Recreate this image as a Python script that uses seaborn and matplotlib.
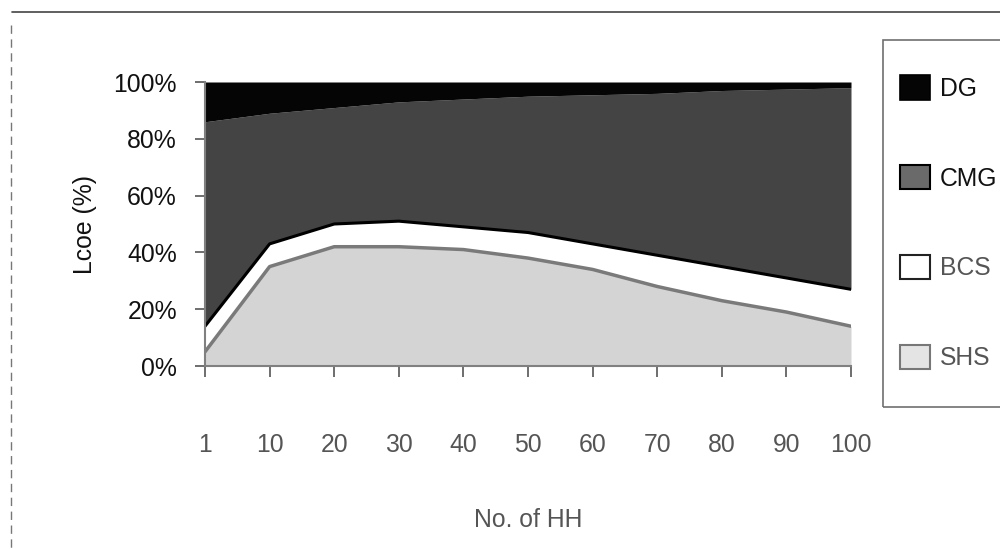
import numpy as np
import pandas as pd
import matplotlib
matplotlib.use("Agg")
import matplotlib.pyplot as plt
import seaborn as sns
from matplotlib.patches import Patch, Rectangle
from matplotlib.lines import Line2D

# ---- data (shares in %) ----
categories = ['1', '10', '20', '30', '40', '50', '60', '70', '80', '90', '100']
shs = [5, 35, 42, 42, 41, 38, 34, 28, 23, 19, 14]
bcs = [9, 8, 8, 9, 8, 9, 9, 11, 12, 12, 13]
cmg = [72, 46, 41, 42, 45, 48, 52.5, 57, 62, 66.5, 71]
dg = [14, 11, 9, 7, 6, 5, 4.5, 4, 3, 2.5, 2]
series_names = ['SHS', 'BCS', 'CMG', 'DG']
y_ticks = [0, 20, 40, 60, 80, 100]
y_tick_labels = ['0%', '20%', '40%', '60%', '80%', '100%']

sns.set_theme(style='white')
plt.rcParams['font.family'] = ['Liberation Sans', 'DejaVu Sans']

W, H = 1000, 549
FS = 17.8
fig = plt.figure(figsize=(W / 100, H / 100), dpi=100)
ax = fig.add_axes([205 / W, 1 - 366 / H, 646 / W, 284 / H])

x = np.arange(len(categories))
colors = ['#d4d4d4', '#ffffff', '#444444', '#050505']
ax.stackplot(x, shs, bcs, cmg, dg, colors=colors, linewidth=0)

df = pd.DataFrame({'x': x,
                   'shs_top': np.array(shs, dtype=float),
                   'bcs_top': np.array(shs, dtype=float) + np.array(bcs, dtype=float)})
sns.lineplot(data=df, x='x', y='shs_top', ax=ax, color='#7a7a7a', lw=2.5)
sns.lineplot(data=df, x='x', y='bcs_top', ax=ax, color='#000000', lw=2.2)

ax.set_xlim(0, len(categories) - 1)
ax.set_ylim(0, 100)
ax.set_xticks(x)
ax.set_xticklabels(categories)
ax.set_yticks(y_ticks)
ax.set_yticklabels(y_tick_labels)

for s in ['top', 'right']:
    ax.spines[s].set_visible(False)
for s in ['left', 'bottom']:
    ax.spines[s].set_color('#808080')
    ax.spines[s].set_linewidth(1.5)

ax.tick_params(axis='y', which='major', direction='out', length=7.2, width=1.2,
               color='#555555', pad=13, labelsize=FS, labelcolor='#111111', left=True)
ax.tick_params(axis='x', which='major', direction='out', length=8, width=1.2,
               color='#555555', pad=40, labelsize=FS, labelcolor='#555555', bottom=True)

ax.set_xlabel('No. of HH', fontsize=FS, color='#555555')
ax.set_ylabel('Lcoe (%)', fontsize=FS, color='#111111')
ax.xaxis.set_label_coords(0.5, (366 - 508) / 284)
ax.yaxis.set_label_coords((97 - 205) / 646, 0.5)

# legend
handles = [Patch(facecolor='#050505', edgecolor='#000000', lw=1.2),
           Patch(facecolor='#6a6a6a', edgecolor='#000000', lw=1.5),
           Patch(facecolor='#ffffff', edgecolor='#222222', lw=1.5),
           Patch(facecolor='#e4e4e4', edgecolor='#777777', lw=1.5)]
labels = ['DG', 'CMG', 'BCS', 'SHS']
leg = fig.legend(handles, labels, loc='upper left',
                 bbox_to_anchor=(900 / W, 1 - 75 / H), frameon=False,
                 fontsize=FS, handlelength=1.2, handleheight=1.15,
                 handletextpad=0.4, labelspacing=2.6, borderpad=0,
                 borderaxespad=0)
for t, c in zip(leg.get_texts(), ['#111111', '#111111', '#555555', '#555555']):
    t.set_color(c)

fig.add_artist(Rectangle((883 / W, 1 - 407 / H), 130 / W, 367 / H,
                         transform=fig.transFigure, fill=False,
                         edgecolor='#707070', lw=1.2))
# outer chart frame remnants
fig.add_artist(Line2D([12 / W, 1.0], [1 - 12 / H, 1 - 12 / H],
                      transform=fig.transFigure, color='#444444', lw=1.2))
fig.add_artist(Line2D([11 / W, 11 / W], [1 - 25 / H, 0],
                      transform=fig.transFigure, color='#777777', lw=1.0,
                      ls=(0, (6, 4))))

fig.savefig('out.png', dpi=100)
